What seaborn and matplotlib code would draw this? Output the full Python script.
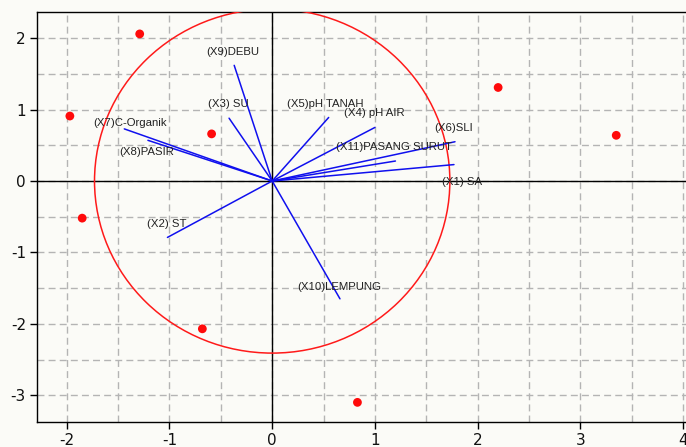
import matplotlib
matplotlib.use("Agg")
import matplotlib.pyplot as plt
import seaborn as sns
import pandas as pd
import numpy as np
from matplotlib.patches import Ellipse
from matplotlib.ticker import MultipleLocator

# Observation scores (red points)
obs_x = [-1.29, -1.97, -0.59, -1.85, -0.68, 0.83, 2.20, 3.35]
obs_y = [2.06, 0.91, 0.66, -0.52, -2.07, -3.10, 1.31, 0.64]

# Variable loadings (blue vectors)
var_names = ["(X1) SA", "(X2) ST", "(X3) SU", "(X4) pH AIR", "(X5)pH TANAH",
             "(X6)SLI", "(X7)C-Organik", "(X8)PASIR", "(X9)DEBU",
             "(X10)LEMPUNG", "(X11)PASANG SURUT"]
var_x = [1.77, -1.02, -0.42, 1.00, 0.55, 1.78, -1.44, -1.21, -0.37, 0.66, 1.20]
var_y = [0.23, -0.79, 0.88, 0.75, 0.89, 0.55, 0.73, 0.57, 1.62, -1.65, 0.28]
# label positions
lab_x = [1.85, -1.03, -0.43, 0.99, 0.52, 1.77, -1.38, -1.22, -0.38, 0.65, 1.19]
lab_y = [-0.01, -0.60, 1.08, 0.95, 1.08, 0.74, 0.81, 0.40, 1.81, -1.48, 0.48]

xticks = [-2, -1, 0, 1, 2, 3, 4]
yticks = [-3, -2, -1, 0, 1, 2]

circle_rx = 1.73
circle_ry = 2.41

sns.set_theme(style="white")
plt.rcParams['font.family'] = ['DejaVu Sans']

fig = plt.figure(figsize=(6.86, 4.47), dpi=100)
bg = '#fbfbf7'
fig.patch.set_facecolor(bg)
ax = fig.add_axes([37/686, 25/447, 655/686, 410/447])
ax.set_facecolor(bg)

ax.set_xlim(-2.29, (692 - 272) / 102.75)
ax.set_ylim(-3.375, 2.367)

ax.set_xticks(xticks)
ax.set_yticks(yticks)
ax.set_xticklabels([str(t) for t in xticks])
ax.set_yticklabels([str(t) for t in yticks])
ax.xaxis.set_minor_locator(MultipleLocator(0.5))
ax.yaxis.set_minor_locator(MultipleLocator(0.5))
ax.grid(which='both', color='#b4b4b4', linestyle=(0, (5, 3)), linewidth=1.0)
ax.set_axisbelow(True)
ax.tick_params(which='major', direction='out', length=5, width=1, color='black',
               labelsize=11, labelcolor='#111111', left=True, bottom=True, pad=3)
ax.tick_params(which='minor', length=0)

for s in ['left', 'bottom', 'top', 'right']:
    ax.spines[s].set_color('black')
    ax.spines[s].set_linewidth(1.0)
    ax.spines[s].set_visible(True)

ax.axhline(0, color='black', lw=1.0, zorder=2)
ax.axvline(0, color='black', lw=1.0, zorder=2)

ell = Ellipse((0, 0), 2 * circle_rx, 2 * circle_ry, fill=False,
              edgecolor='#ff1a1a', lw=1.1, zorder=3)
ax.add_patch(ell)

for vx, vy in zip(var_x, var_y):
    ax.plot([0, vx], [0, vy], color='#1010ee', lw=1.1, zorder=4)

for name, tx, ty in zip(var_names, lab_x, lab_y):
    ax.text(tx, ty, name, ha='center', va='center', fontsize=8.2,
            family=['Liberation Sans', 'DejaVu Sans'], color='#222222', zorder=5)

df = pd.DataFrame({'x': obs_x, 'y': obs_y})
sns.scatterplot(data=df, x='x', y='y', ax=ax, color='#ff0a0a', s=40,
                edgecolor='none', zorder=6, legend=False)
ax.set_xlabel('')
ax.set_ylabel('')

fig.savefig('out.png', dpi=100, facecolor=bg)
